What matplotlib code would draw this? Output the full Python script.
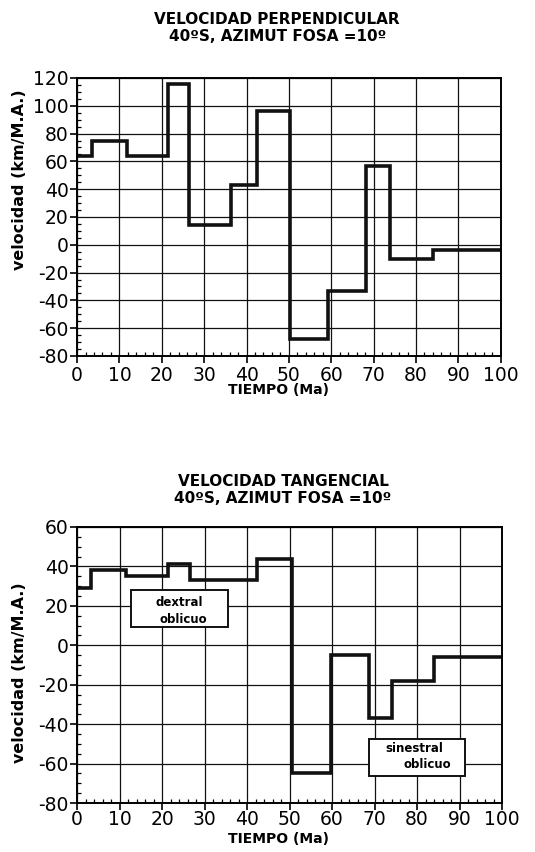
import matplotlib.pyplot as plt
from matplotlib.patches import Rectangle
from matplotlib.ticker import MultipleLocator

plt.rcParams['font.family'] = ['DejaVu Sans']
plt.rcParams['axes.unicode_minus'] = False

# velocidad perpendicular (step edges in Ma, values in km/M.A.)
perp_edges = [0, 3.5, 11.8, 21.4, 26.5, 36.4, 42.4, 50.3, 59.3, 68.3, 73.8, 84, 100]
perp_vals = [64, 75, 64, 116, 14, 43, 96, -68, -33, 57, -10, -4]

# velocidad tangencial
tang_edges = [0, 3.4, 11.6, 21.4, 26.5, 42.4, 50.5, 59.7, 68.6, 74.2, 84, 100]
tang_vals = [29, 38, 35, 41, 33, 44, -65, -5, -37, -18, -6]

x_ticks = list(range(0, 101, 10))

fig = plt.figure(figsize=(5.35, 8.52), dpi=100)


def setup(ax, ymin, ymax, xpad):
    ax.set_xlim(0, 100)
    ax.set_ylim(ymin, ymax)
    ax.set_xticks(x_ticks)
    ax.set_yticks(range(ymin, ymax + 1, 20))
    ax.xaxis.set_minor_locator(MultipleLocator(2))
    ax.yaxis.set_minor_locator(MultipleLocator(5))
    ax.grid(True, which='major', color='#111111', linewidth=0.9)
    ax.tick_params(which='major', direction='out', length=5, width=1.2,
                   labelsize=13.5)
    ax.tick_params(axis='x', which='major', pad=xpad)
    ax.tick_params(axis='y', which='major', pad=1)
    ax.tick_params(which='minor', direction='in', length=3, width=0.9)
    for s in ax.spines.values():
        s.set_linewidth(1.4)
    ax.set_axisbelow(True)


# top chart
ax1 = fig.add_axes([0.144, 0.5822, 0.792, 0.3263])
setup(ax1, -80, 120, 2)
ax1.stairs(perp_vals, perp_edges, baseline=None, color='#111111', linewidth=2.6)
fig.text(0.518, 0.967, "VELOCIDAD PERPENDICULAR\n40ºS, AZIMUT FOSA =10º",
         ha='center', va='center', fontsize=11, fontweight='bold', linespacing=1.2)
fig.text(0.52, 0.542, "TIEMPO (Ma)", ha='center', va='center',
         fontsize=10, fontweight='bold')
fig.text(0.037, 0.789, "velocidad (km/M.A.)", rotation=90, ha='center', va='center',
         fontsize=11.5, fontweight='bold')

# bottom chart
ax2 = fig.add_axes([0.144, 0.0575, 0.7944, 0.324])
setup(ax2, -80, 60, 0)
ax2.stairs(tang_vals, tang_edges, baseline=None, color='#111111', linewidth=2.6)
fig.text(0.529, 0.425, "VELOCIDAD TANGENCIAL\n40ºS, AZIMUT FOSA =10º",
         ha='center', va='center', fontsize=11, fontweight='bold', linespacing=1.2)
fig.text(0.52, 0.015, "TIEMPO (Ma)", ha='center', va='center',
         fontsize=10, fontweight='bold')
fig.text(0.037, 0.21, "velocidad (km/M.A.)", rotation=90, ha='center', va='center',
         fontsize=11.5, fontweight='bold')

# annotation boxes
ax2.add_patch(Rectangle((12.8, 9.2), 22.8, 18.6, facecolor='white',
                        edgecolor='#111111', linewidth=1.4, zorder=3))
ax2.text(24, 21.5, "dextral", ha='center', va='center', fontsize=8.5,
         fontweight='bold', zorder=4)
ax2.text(25.1, 13, "oblicuo", ha='center', va='center', fontsize=8.5,
         fontweight='bold', zorder=4)
ax2.add_patch(Rectangle((68.6, -66.2), 22.8, 18.6, facecolor='white',
                        edgecolor='#111111', linewidth=1.4, zorder=3))
ax2.text(79.3, -52.2, "sinestral", ha='center', va='center', fontsize=8.5,
         fontweight='bold', zorder=4)
ax2.text(82.5, -60.6, "oblicuo", ha='center', va='center', fontsize=8.5,
         fontweight='bold', zorder=4)

fig.savefig("out.png", dpi=100)
